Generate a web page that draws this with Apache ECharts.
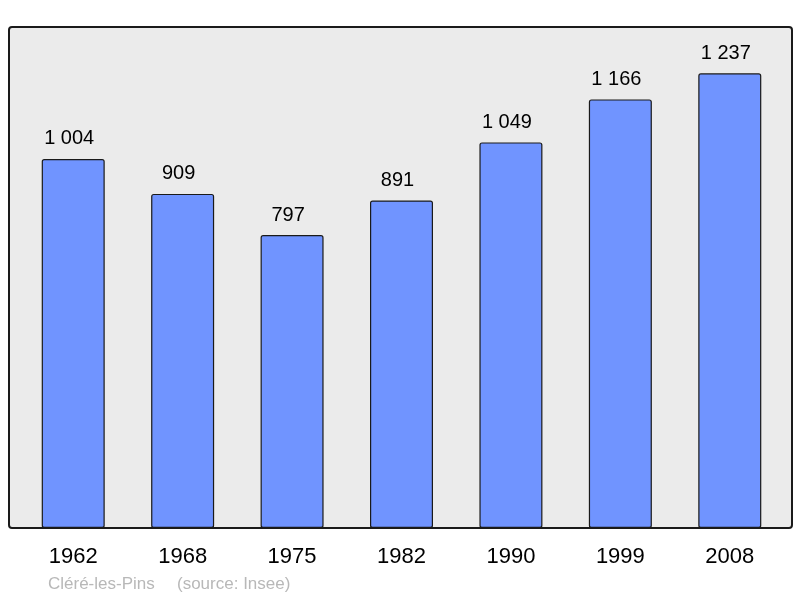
<!DOCTYPE html>
<html><head><meta charset="utf-8">
<script src="https://cdn.jsdelivr.net/npm/echarts@6/dist/echarts.min.js"></script>
<style>html,body{margin:0;padding:0;background:#fff}#c{width:800px;height:598px}</style>
</head><body><div id="c"></div>
<script>
const categories = ['1962','1968','1975','1982','1990','1999','2008'];
const population = [1004, 909, 797, 891, 1049, 1166, 1237];
const captionPlace = 'Cléré-les-Pins';
const captionSource = '(source: Insee)';

function fmt(v){ return String(v).replace(/\B(?=(\d{3})+(?!\d))/g, ' '); }

const FONT = '"Liberation Sans", Arial, sans-serif';
const chart = echarts.init(document.getElementById('c'), null, {renderer:'canvas'});
chart.setOption({
  animation:false,
  backgroundColor:'#ffffff',
  graphic:[
    {type:'rect', z:-10, shape:{x:9, y:27, width:783, height:501, r:3},
     style:{fill:'#ebebeb', stroke:'#1a1a1a', lineWidth:2}},
    {type:'text', left:48, top:576, style:{text:captionPlace, fill:'#b8b8b8', font:'17px ' + FONT}},
    {type:'text', left:177, top:576, style:{text:captionSource, fill:'#b8b8b8', font:'17px ' + FONT}}
  ],
  grid:{left:18.5, width:766, top:27, height:501, containLabel:false},
  xAxis:{type:'category', data:categories,
    axisLine:{show:false}, axisTick:{show:false}, splitLine:{show:false},
    axisLabel:{color:'#000', fontSize:22, fontFamily:FONT, margin:18}},
  yAxis:{type:'value', min:0, max:1363, show:false, splitLine:{show:false}},
  series:[{type:'bar', data:population, barWidth:63,
    itemStyle:{color:'#7094ff', borderColor:'#1a1a1a', borderWidth:1.2, borderRadius:2},
    label:{show:true, position:'top', distance:10, offset:[-4,0], color:'#000', fontSize:20,
      fontFamily:FONT, formatter:p=>fmt(p.value)}}]
});
</script></body></html>
